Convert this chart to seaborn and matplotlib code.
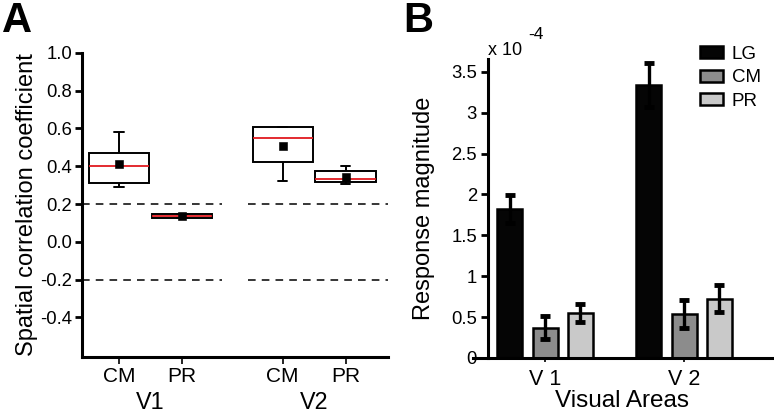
import numpy as np
import pandas as pd
import seaborn as sns
import matplotlib.pyplot as plt

# Panel A - five number summaries (low whisker, q1, median, q3, high whisker)
box_labels = ["CM", "PR", "CM", "PR"]
box_pos = [1.0, 2.0, 3.6, 4.6]
cm_v1 = [0.29, 0.31, 0.40, 0.47, 0.58]
pr_v1 = [0.124, 0.125, 0.135, 0.146, 0.147]
cm_v2 = [0.32, 0.42, 0.55, 0.606, 0.606]
pr_v2 = [0.308, 0.314, 0.335, 0.376, 0.399]
box_means = [0.41, 0.135, 0.508, 0.344]
area_labels = ["V1", "V2"]
area_centers = [1.5, 4.1]
ref_lines = [0.2, -0.2]

# Panel B - response magnitudes (x 10^-4) and error bars
areas = ["V 1", "V 2"]
conds = ["LG", "CM", "PR"]
lg_vals = [1.82, 3.34]
cm_vals = [0.37, 0.535]
pr_vals = [0.55, 0.727]
lg_err = [0.17, 0.27]
cm_err = [0.14, 0.17]
pr_err = [0.11, 0.16]
bar_colors = ["#050505", "#8c8c8c", "#c9c9c9"]

sns.set_style("ticks")
plt.rcParams["font.family"] = ["Liberation Sans", "DejaVu Sans"]
plt.rcParams.update({
    "axes.linewidth": 2.2,
    "axes.edgecolor": "black",
    "axes.labelcolor": "black",
    "text.color": "black",
    "xtick.color": "black",
    "ytick.color": "black",
})

fig = plt.figure(figsize=(7.74, 4.17), dpi=100)

# ---------------- Panel A ----------------
axA = fig.add_axes([0.106, 0.144, 0.395, 0.729])
rows = []
for p, vals in zip(box_pos, [cm_v1, pr_v1, cm_v2, pr_v2]):
    for v in vals:
        rows.append({"pos": p, "value": v})
dfA = pd.DataFrame(rows)

sns.boxplot(data=dfA, x="pos", y="value", native_scale=True, width=0.96,
            color="white", linecolor="black", linewidth=1.4, whis=1.5,
            showfliers=False, capwidths=0.15,
            medianprops={"color": "#e0191f", "linewidth": 1.3},
            ax=axA)
sns.scatterplot(x=box_pos, y=box_means, marker="s", color="black", s=28,
                edgecolor="black", zorder=5, ax=axA)

xmin, xmax = 0.41, 5.27
for y in ref_lines:
    axA.hlines(y, xmin, 2.63, colors="black", linestyles=(0, (5, 4)), lw=1.1)
    axA.hlines(y, 3.05, xmax, colors="black", linestyles=(0, (5, 4)), lw=1.1)

axA.set_xlim(xmin, xmax)
axA.set_ylim(-0.61, 1.0)
axA.set_yticks([1.0, 0.8, 0.6, 0.4, 0.2, 0.0, -0.2, -0.4])
axA.set_yticklabels(["1.0", "0.8", "0.6", "0.4", "0.2", "0.0", "-0.2", "-0.4"])
axA.set_xticks(box_pos)
axA.set_xticklabels(box_labels)
axA.tick_params(axis="y", labelsize=13.3, length=5, width=2, pad=2)
axA.tick_params(axis="x", labelsize=15, length=5, width=1.2, pad=2)
axA.set_xlabel("")
axA.set_ylabel("Spatial correlation coefficient", fontsize=17, labelpad=2)
sns.despine(ax=axA)
for x, lab in zip(area_centers, area_labels):
    axA.text(x, -0.151, lab, transform=axA.get_xaxis_transform(),
             ha="center", va="center", fontsize=16.8)

# ---------------- Panel B ----------------
axB = fig.add_axes([0.611, 0.1415, 0.386, 0.7175])
dfB = pd.DataFrame({
    "area": areas * 3,
    "cond": [c for c in conds for _ in areas],
    "value": lg_vals + cm_vals + pr_vals,
})
sns.barplot(data=dfB, x="area", y="value", hue="cond", hue_order=conds,
            palette=bar_colors, edgecolor="black", linewidth=1.8,
            width=0.76, gap=0.29, errorbar=None, saturation=1, ax=axB)

for cont, errs in zip(axB.containers, [lg_err, cm_err, pr_err]):
    xs = [b.get_x() + b.get_width() / 2 for b in cont]
    ys = [b.get_height() for b in cont]
    axB.errorbar(xs, ys, yerr=errs, fmt="none", ecolor="black",
                 elinewidth=2.4, capsize=3.5, capthick=3.5, zorder=5)

axB.set_xlim(-0.52, 1.63)
axB.set_ylim(0, 3.66)
axB.spines["left"].set_position(("data", -0.41))
axB.set_yticks([0, 0.5, 1, 1.5, 2, 2.5, 3, 3.5])
axB.set_yticklabels(["0", "0.5", "1", "1.5", "2", "2.5", "3", "3.5"])
axB.tick_params(axis="y", labelsize=13.3, length=5, width=2, pad=3)
axB.tick_params(axis="x", labelsize=15.5, length=3, width=1.2, pad=5)
axB.set_ylabel("Response magnitude", fontsize=17, labelpad=11.5)
axB.set_xlabel("Visual Areas", fontsize=17.5, labelpad=0)
sns.despine(ax=axB)
axB.text(0.05, 1.013, "x 10", transform=axB.transAxes, fontsize=13,
         ha="left", va="baseline")
axB.text(0.184, 1.067, "-4", transform=axB.transAxes, fontsize=12.5,
         ha="left", va="baseline")
axB.legend(title=None, frameon=False, loc="upper right",
           bbox_to_anchor=(1.02, 1.1), fontsize=13.5, handlelength=1.25,
           handleheight=0.6, handletextpad=0.45, labelspacing=0.35)

fig.text(0.003, 0.998, "A", fontsize=30, fontweight="bold", ha="left", va="top")
fig.text(0.521, 0.998, "B", fontsize=30, fontweight="bold", ha="left", va="top")

fig.savefig("out.png", dpi=100)
